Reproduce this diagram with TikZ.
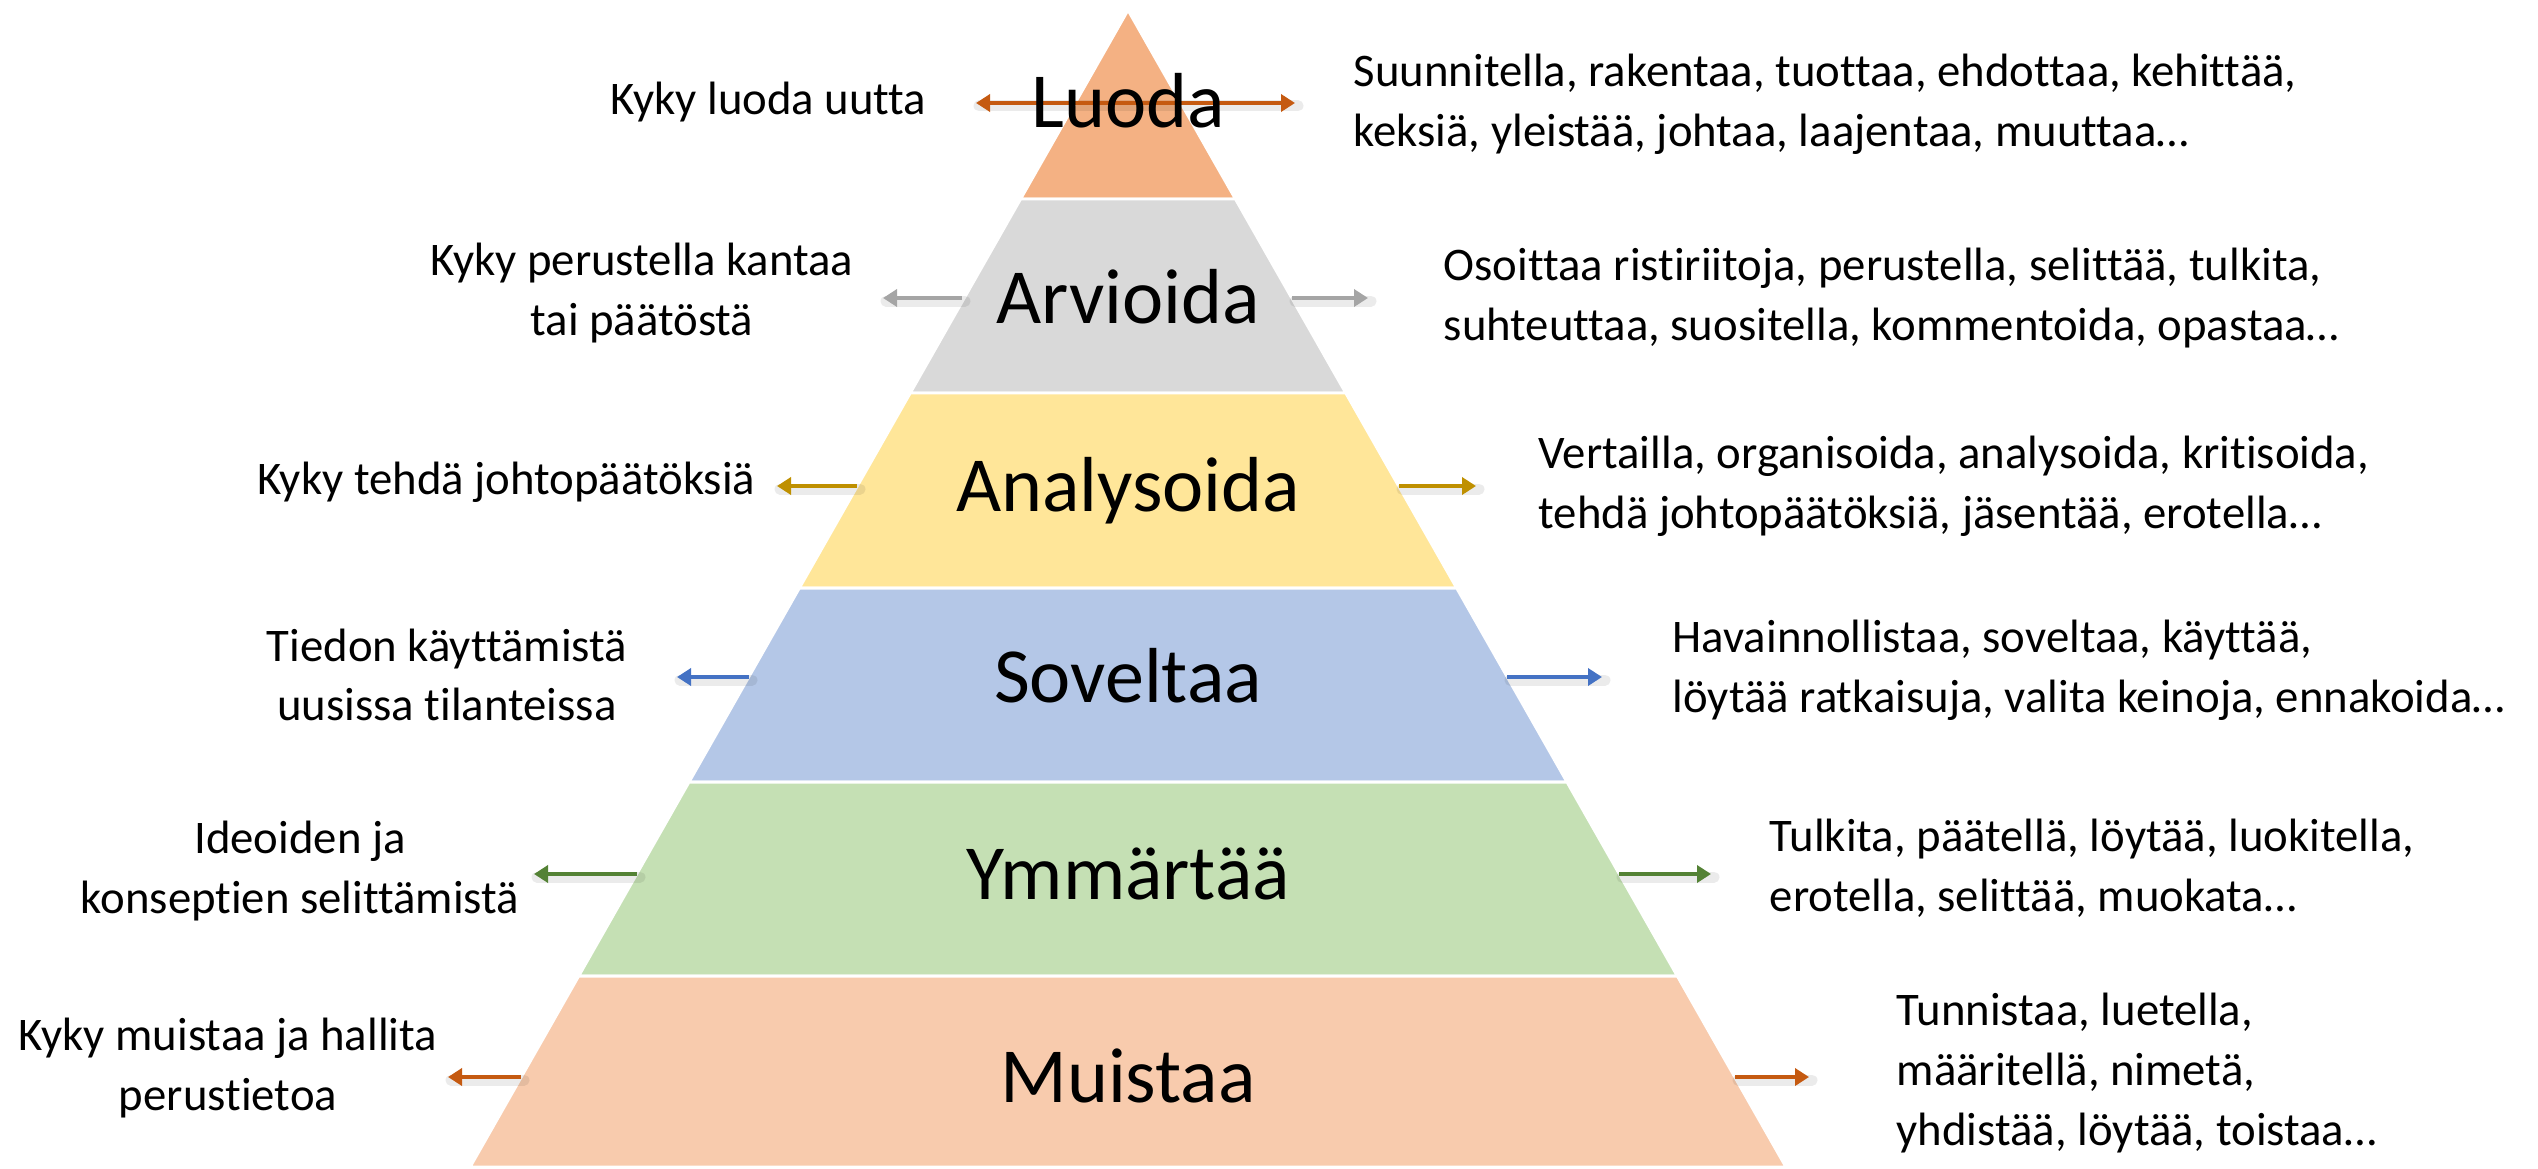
\documentclass[tikz,border=0pt]{standalone}
\usepackage{fontspec}
\setmainfont{Carlito}[Ligatures={NoCommon}]
\usepackage{xcolor}
\definecolor{luodac}{RGB}{244,177,131}
\definecolor{arvioidac}{RGB}{217,217,217}
\definecolor{analysoidac}{RGB}{255,230,153}
\definecolor{soveltaac}{RGB}{180,199,231}
\definecolor{ymmartaac}{RGB}{197,224,180}
\definecolor{muistaac}{RGB}{248,203,173}
\definecolor{nor}{RGB}{197,90,17}
\definecolor{ngr}{RGB}{165,165,165}
\definecolor{nye}{RGB}{191,144,0}
\definecolor{nbl}{RGB}{68,114,196}
\definecolor{ngn}{RGB}{84,130,53}
\usetikzlibrary{arrows.meta}
\usetikzlibrary{calc}
\tikzset{nuoli/.style={-{Triangle[length=1.4mm,width=1.7mm]},line width=0.45mm},
  kaksinuoli/.style={{Triangle[length=1.4mm,width=1.7mm]}-{Triangle[length=1.4mm,width=1.7mm]},line width=0.45mm},
  varjo/.style={line width=1.1mm,black,opacity=0.08,line cap=round},
  taso/.style={anchor=base,inner sep=0pt,font=\fontsize{22.2}{26}\selectfont},
  selite/.style={inner sep=0pt,font=\fontsize{13.3}{17}\selectfont}}
\newcommand{\kerros}[3]{\pgfmathsetmacro{\ylev}{0.5687*(11.58-#1)}\pgfmathsetmacro{\alev}{0.5687*(11.58-#2)}\fill[#3,draw=white,line width=0.85pt] (11.28-\alev,#2) -- (11.28+\alev,#2) -- (11.28+\ylev,#1) -- (11.28-\ylev,#1) -- cycle;}

\begin{document}
\begin{tikzpicture}
  \useasboundingbox (0,0) rectangle (25.38,11.68);
  \kerros{11.58}{9.69}{luodac};
  \kerros{9.69}{7.75}{arvioidac};
  \kerros{7.75}{5.80}{analysoidac};
  \kerros{5.80}{3.86}{soveltaac};
  \kerros{3.86}{1.92}{ymmartaac};
  \kerros{1.92}{0.01}{muistaac};
  \coordinate (l1a) at (9.76,10.65);
  \coordinate (l1b) at (12.95,10.65);
  \draw[varjo] ($(l1a)+(0.03,-0.03)$) -- ($(l1b)+(0.03,-0.03)$);
  \draw[kaksinuoli,nor] (l1a) -- (l1b);
  \foreach \n/\y/\ls/\lt/\rs/\rt/\c in {2/8.70/9.62/8.83/12.92/13.68/ngr,
      3/6.82/8.57/7.77/13.99/14.76/nye,
      4/4.91/7.49/6.77/15.07/16.02/nbl,
      5/2.94/6.37/5.34/16.19/17.11/ngn,
      6/0.91/5.21/4.48/17.35/18.09/nor}{
    \coordinate (l\n a) at (\ls,\y);
    \coordinate (l\n b) at (\lt,\y);
    \coordinate (r\n a) at (\rs,\y);
    \coordinate (r\n b) at (\rt,\y);
    \draw[varjo] ($(l\n a)+(0.03,-0.03)$) -- ($(l\n b)+(0.03,-0.03)$);
    \draw[varjo] ($(r\n a)+(0.03,-0.03)$) -- ($(r\n b)+(0.03,-0.03)$);
    \draw[nuoli,\c] (l\n a) -- (l\n b);
    \draw[nuoli,\c] (r\n a) -- (r\n b);
  }
  \node[taso] (luoda) at (11.28,10.40) {Luoda};
  \node[taso] (arvioida) at (11.28,8.45) {Arvioida};
  \node[taso] (analysoida) at (11.28,6.57) {Analysoida};
  \node[taso] (soveltaa) at (11.28,4.66) {Soveltaa};
  \node[taso] (ymmartaa) at (11.28,2.69) {Ymmärtää};
  \node[taso] (muistaa) at (11.28,0.66) {Muistaa};
  \node[selite,anchor=east] (kl1) at (9.27,10.66) {Kyky luoda uutta};
  \node[selite,align=center] (kl2) at (6.42,8.75) {Kyky perustella kantaa\\tai päätöstä};
  \node[selite,anchor=east] (kl3) at (7.56,6.86) {Kyky tehdä johtopäätöksiä};
  \node[selite,align=center] (kl4) at (4.47,4.93) {Tiedon käyttämistä\\uusissa tilanteissa};
  \node[selite,align=center] (kl5) at (3.00,2.97) {Ideoiden ja\\konseptien selittämistä};
  \node[selite,align=center] (kl6) at (2.28,1.00) {Kyky muistaa ja hallita\\perustietoa};
  \node[selite,align=left,anchor=west] (kr1) at (13.53,10.64) {Suunnitella, rakentaa, tuottaa, ehdottaa, kehittää,\\keksiä, yleistää, johtaa, laajentaa, muuttaa…};
  \node[selite,align=left,anchor=west] (kr2) at (14.43,8.70) {Osoittaa ristiriitoja, perustella, selittää, tulkita,\\suhteuttaa, suositella, kommentoida, opastaa…};
  \node[selite,align=left,anchor=west] (kr3) at (15.38,6.82) {Vertailla, organisoida, analysoida, kritisoida,\\tehdä johtopäätöksiä, jäsentää, erotella…};
  \node[selite,align=left,anchor=west] (kr4) at (16.72,4.98) {Havainnollistaa, soveltaa, käyttää,\\löytää ratkaisuja, valita keinoja, ennakoida…};
  \node[selite,align=left,anchor=west] (kr5) at (17.69,3.00) {Tulkita, päätellä, löytää, luokitella,\\erotella, selittää, muokata…};
  \node[selite,align=left,anchor=west] (kr6) at (18.96,0.95) {Tunnistaa, luetella,\\määritellä, nimetä,\\yhdistää, löytää, toistaa…};
\end{tikzpicture}
\end{document}
